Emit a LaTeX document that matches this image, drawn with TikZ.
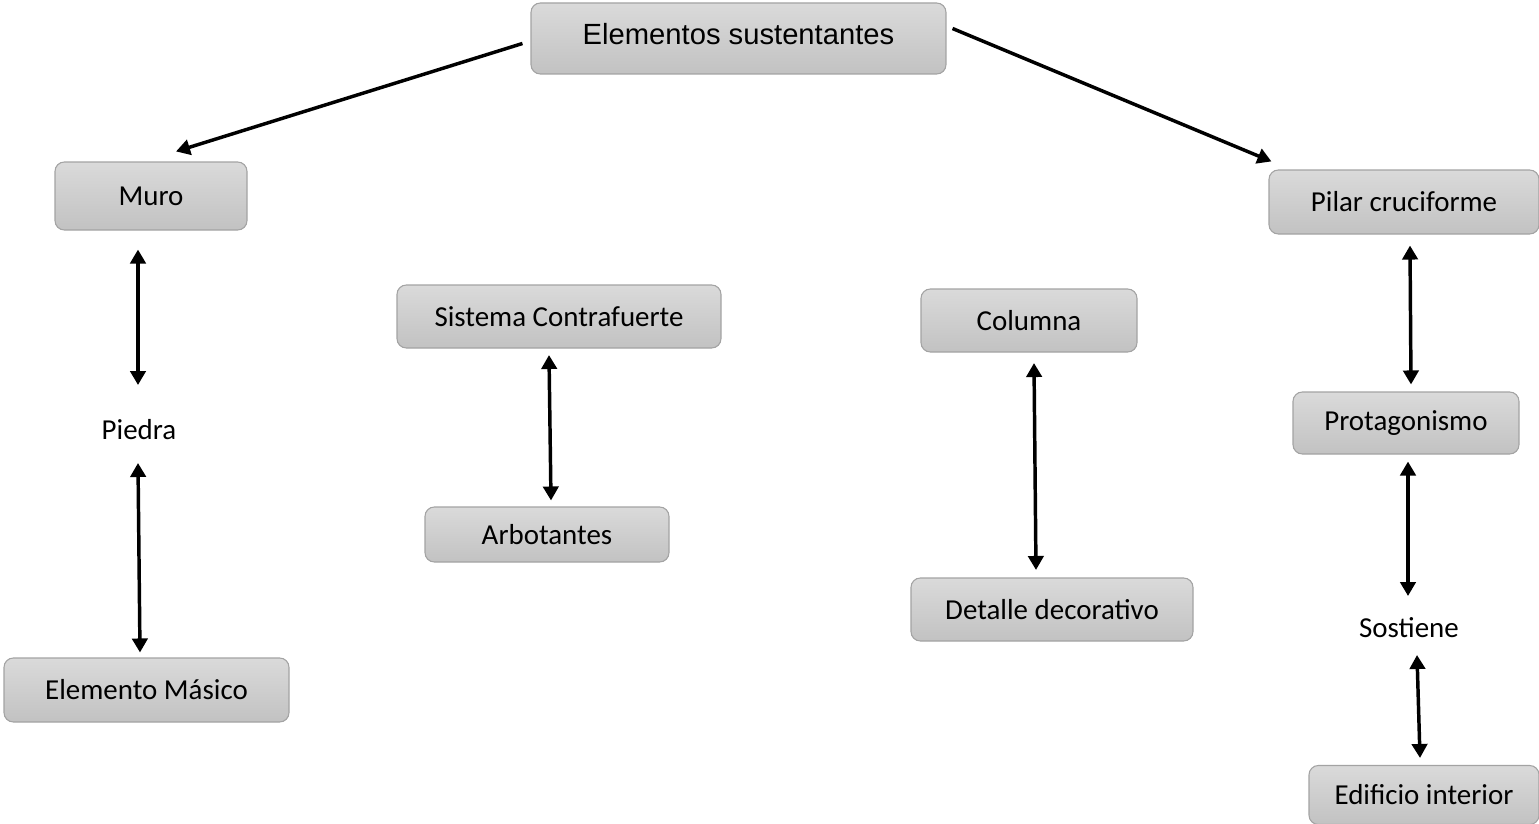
\documentclass[tikz,border=0pt]{standalone}
\usepackage{fontspec}
\setmainfont{Carlito}
\newfontfamily\arialfont{Liberation Sans}
\usetikzlibrary{arrows.meta,calc}
\definecolor{boxtop}{HTML}{DADADA}
\definecolor{boxbot}{HTML}{C2C2C2}
\definecolor{boxline}{HTML}{A3A3A3}
\tikzset{
  box/.style={draw=boxline, line width=0.8pt, rounded corners=7pt, top color=boxtop, bottom color=boxbot,
    font=\fontsize{21.7}{26}\selectfont, inner sep=0pt, text=black},
  plain/.style={font=\fontsize{21.7}{26}\selectfont, inner sep=0pt},
  arr/.style={line width=2.6pt, -{Triangle[width=11.5pt,length=10.5pt]}},
  darr/.style={line width=2.6pt, {Triangle[width=11.5pt,length=10.5pt]}-{Triangle[width=11.5pt,length=10.5pt]}}
}
\begin{document}
\begin{tikzpicture}[x=0.75pt,y=-0.75pt]
\useasboundingbox (0,0) rectangle (1539,824);
\node[box, minimum width=311.25pt, minimum height=53.25pt, font=\arialfont\fontsize{21.9}{26}\selectfont] (elem) at (738.5,38.5) {\raisebox{6.25pt}{Elementos sustentantes}};
\node[box, minimum width=144pt, minimum height=51pt] (muro) at (151,196) {Muro};
\node[box, minimum width=202.5pt, minimum height=48pt] (pilar) at (1404,202) {Pilar cruciforme};
\node[box, minimum width=243pt, minimum height=47.25pt] (sist) at (559,316.5) {Sistema Contrafuerte};
\node[box, minimum width=162pt, minimum height=47.25pt] (col) at (1029,320.5) {Columna};
\node[box, minimum width=169.5pt, minimum height=46.5pt] (prot) at (1406,423) {Protagonismo};
\node[box, minimum width=183pt, minimum height=41.25pt] (arbo) at (547,534.5) {Arbotantes};
\node[box, minimum width=211.5pt, minimum height=47.25pt] (deta) at (1052,609.5) {Detalle decorativo};
\node[box, minimum width=213.75pt, minimum height=48pt] (emas) at (146.5,690) {Elemento Másico};
\node[box, minimum width=172.5pt, minimum height=44.25pt] (edif) at (1424,795) {Edificio interior};
\node[plain] (pied) at (139,430) {Piedra};
\node[plain] (sost) at (1409,628) {Sostiene};

\draw[arr] ($(elem.west)+(-8,5)$) -- ($(muro.north)+(25,-10)$);
\draw[arr] ($(elem.east)+(6,-10)$) -- ($(pilar.north west)+(3,-8)$);
\draw[darr] ($(muro.south)+(-13,19)$) -- ($(pied.center)+(-1,-45)$);
\draw[darr] ($(pied.center)+(-1,33)$) -- ($(emas.north)+(-6.5,-5)$);
\draw[darr] ($(sist.south)+(-10,6.5)$) -- ($(arbo.north)+(4,-6)$);
\draw[darr] ($(col.south)+(5,10.5)$) -- ($(deta.north)+(-16,-7.5)$);
\draw[darr] ($(pilar.south)+(6,11)$) -- ($(prot.north)+(5,-7)$);
\draw[darr] ($(prot.south)+(2,7)$) -- ($(sost.center)+(-1,-32)$);
\draw[darr] ($(sost.center)+(8,27)$) -- ($(edif.north)+(-4,-7)$);
\end{tikzpicture}
\end{document}
